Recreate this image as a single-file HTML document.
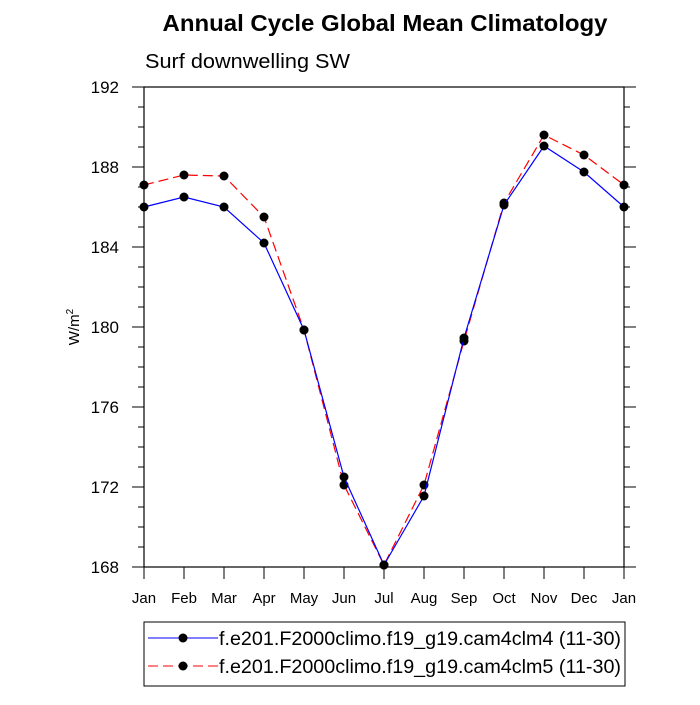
<!DOCTYPE html>
<html><head><meta charset="utf-8"><style>
body{margin:0;background:#fff;}
svg{font-family:"Liberation Sans",sans-serif;}
</style></head><body>
<svg width="700" height="700">
<text x="385" y="31" text-anchor="middle" font-size="23" font-weight="bold" textLength="445" lengthAdjust="spacingAndGlyphs">Annual Cycle Global Mean Climatology</text>
<text x="145" y="68" font-size="20" textLength="205" lengthAdjust="spacingAndGlyphs">Surf downwelling SW</text>
<text transform="translate(79,327) rotate(-90)" text-anchor="middle" font-size="15">W/m<tspan dy="-6" font-size="10">2</tspan></text>
<g id="axes"></g>
<g id="series"></g>
<rect x="144" y="87" width="480" height="480" fill="none" stroke="#000" stroke-width="1.2"/>
<g>
<rect x="144" y="622" width="481" height="64" fill="none" stroke="#000" stroke-width="1"/>
<line x1="148" y1="638" x2="218" y2="638" stroke="#00f" stroke-width="1"/>
<circle cx="183" cy="638" r="4.5"/>
<text x="219" y="645" font-size="19" textLength="402" lengthAdjust="spacingAndGlyphs">f.e201.F2000climo.f19_g19.cam4clm4 (11-30)</text>
<line x1="148" y1="666" x2="218" y2="666" stroke="#f00" stroke-width="1" stroke-dasharray="10,5"/>
<circle cx="183" cy="666" r="4.5"/>
<text x="219" y="673" font-size="19" textLength="402" lengthAdjust="spacingAndGlyphs">f.e201.F2000climo.f19_g19.cam4clm5 (11-30)</text>
</g>
</svg>
<script>
const months=["Jan","Feb","Mar","Apr","May","Jun","Jul","Aug","Sep","Oct","Nov","Dec","Jan"];
const clm4=[186.0,186.5,186.0,184.2,179.85,172.5,168.1,171.55,179.45,186.1,189.05,187.75,186.0];
const clm5=[187.1,187.6,187.55,185.5,179.85,172.1,168.1,172.1,179.3,186.2,189.6,188.6,187.1];
const yTicks=[168,172,176,180,184,188,192];
const NS="http://www.w3.org/2000/svg";
const x0=144,x1=624,y0=567,y1=87,ymin=168,ymax=192;
function xs(i){return x0+i*(x1-x0)/(months.length-1);}
function ys(v){return y0-(v-ymin)/(ymax-ymin)*(y0-y1);}
function mk(t,a,p){const e=document.createElementNS(NS,t);for(const k in a)e.setAttribute(k,a[k]);p.appendChild(e);return e;}
const ax=document.getElementById('axes');
months.forEach((m,i)=>{
 const x=xs(i);
 const t=mk('line',{x1:x,x2:x,y1:y0,y2:y0+12,stroke:'#000'},ax);
 
 
 const l=mk('text',{x:x,y:y0+36,'text-anchor':'middle','font-size':'15'},ax);
 l.textContent=m;
 
 
});
for(let v=ymin;v<=ymax;v+=1){
 const y=ys(v),major=yTicks.includes(v),len=major?12:6;
 const a=mk('line',{x1:x0,x2:x0-len,y1:y,y2:y,stroke:'#000'},ax);
 
 
 const b=mk('line',{x1:x1,x2:x1+len,y1:y,y2:y,stroke:'#000'},ax);
 
 
}
yTicks.forEach(v=>{
 const l=mk('text',{x:x0-25,y:ys(v)+6,'text-anchor':'end','font-size':'17'},ax);
 l.textContent=v;
 
 
});
const sg=document.getElementById('series');
function draw(vals,color,dash,name){
 const pts=vals.map((v,i)=>xs(i)+','+ys(v)).join(' ');
 const pl=mk('polyline',{points:pts,fill:'none',stroke:color,'stroke-width':1.2,'stroke-dasharray':dash},sg);
 
 
 vals.forEach((v,i)=>{
  const c=mk('circle',{cx:xs(i),cy:ys(v),r:4.5,fill:'#000'},sg);
  
  
 });
}
draw(clm5,'#f00','10,5','clm5');
draw(clm4,'#00f','none','clm4');
</script>
</body></html>
